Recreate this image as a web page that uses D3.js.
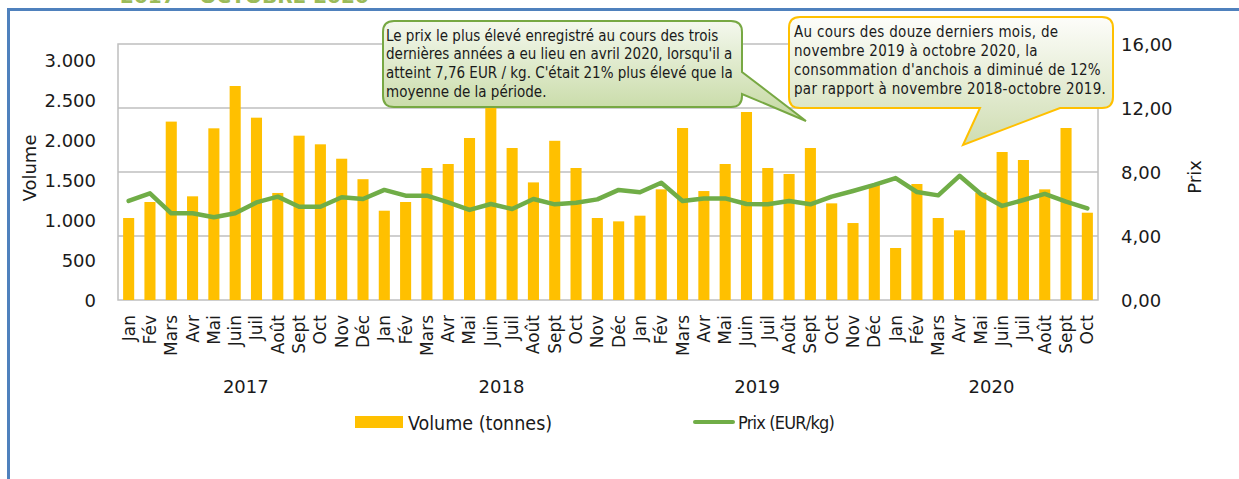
<!DOCTYPE html>
<html>
<head>
<meta charset="utf-8">
<script src="https://cdn.jsdelivr.net/npm/d3@7"></script>
<style>
  html, body { margin: 0; padding: 0; background: #fff; }
  svg { display: block; }
</style>
</head>
<body>
<svg id="chart" width="1239" height="479"></svg>
<script>
// Monthly anchovy volume (tonnes) and price (EUR/kg), Jan 2017 – Oct 2020
const months = ["Jan","Fév","Mars","Avr","Mai","Juin","Juil","Août","Sept","Oct","Nov","Déc",
                "Jan","Fév","Mars","Avr","Mai","Juin","Juil","Août","Sept","Oct","Nov","Déc",
                "Jan","Fév","Mars","Avr","Mai","Juin","Juil","Août","Sept","Oct","Nov","Déc",
                "Jan","Fév","Mars","Avr","Mai","Juin","Juil","Août","Sept","Oct"];
const years = ["2017","2018","2019","2020"];
const yearOf = [0,0,0,0,0,0,0,0,0,0,0,0, 1,1,1,1,1,1,1,1,1,1,1,1,
                2,2,2,2,2,2,2,2,2,2,2,2, 3,3,3,3,3,3,3,3,3,3];
const volume = [1025,1225,2230,1296,2146,2675,2279,1338,2054,1946,1766,1510,
                1116,1225,1650,1700,2025,2550,1900,1470,1990,1650,1025,983,
                1054,1383,2150,1362,1700,2350,1650,1575,1900,1208,962,1450,
                650,1450,1025,871,1341,1850,1750,1383,2150,1091];
const price = [6.19,6.67,5.42,5.42,5.17,5.42,6.10,6.46,5.83,5.83,6.42,6.31,
               6.88,6.52,6.52,6.10,5.63,6.00,5.69,6.31,5.98,6.08,6.29,6.88,
               6.73,7.33,6.19,6.35,6.35,6.00,5.98,6.19,5.98,6.46,6.81,7.19,
               7.62,6.75,6.54,7.76,6.63,5.88,6.25,6.63,6.15,5.73];
const volumeTicks = [0,500,1000,1500,2000,2500,3000];
const priceTicks = [0,4,8,12,16];
const seriesNames = ["Volume (tonnes)","Prix (EUR/kg)"];
const noteHigh = ["Le prix le plus élevé enregistré au cours des trois",
                  "dernières années a eu lieu en avril 2020, lorsqu'il a",
                  "atteint 7,76 EUR / kg. C'était 21% plus élevé que la",
                  "moyenne de la période."];
const noteYear = ["Au cours des douze derniers mois, de",
                  "novembre 2019 à octobre 2020, la",
                  "consommation d'anchois a diminué de 12%",
                  "par rapport à novembre 2018-octobre 2019."];

const BAR = "#FFC000", LINE = "#70AD47", GRID = "#BFBFBF", TXT = "#1a1a1a";
const FONT = "'DejaVu Sans', sans-serif";
const FONT_C = "'DejaVu Sans Condensed', 'DejaVu Sans', sans-serif";

const fr = d3.formatLocale({decimal: ",", thousands: ".", grouping: [3], currency: ["", " €"]});
const fmtVol = fr.format(",.0f");
const fmtPrice = fr.format(",.2f");

const svg = d3.select("#chart");
const plot = {left: 118, right: 1098, top: 44, bottom: 300};

const x = d3.scaleBand().domain(d3.range(months.length))
  .range([plot.left, plot.right]).paddingInner(0.48).paddingOuter(0.24);
const yL = d3.scaleLinear().domain([0, 3200]).range([plot.bottom, plot.top]);
const yR = d3.scaleLinear().domain([0, 16]).range([plot.bottom, plot.top]);

// page title, running under the top edge of the frame
svg.append("text").attr("x", 120).attr("y", 3)
  .attr("font-family", FONT).attr("font-weight", "bold").attr("font-size", 20)
  .attr("fill", "#9BBB59").text("2017 – OCTOBRE 2020");

// blue frame
svg.append("rect").attr("x", 8.5).attr("y", 9.5).attr("width", 1300).attr("height", 600)
  .attr("fill", "none").attr("stroke", "#4F81BD").attr("stroke-width", 3);

// grid lines from the price axis
svg.append("g").selectAll("line").data(priceTicks.slice(1, -1)).join("line")
  .attr("x1", plot.left).attr("x2", plot.right)
  .attr("y1", d => yR(d)).attr("y2", d => yR(d))
  .attr("stroke", GRID).attr("stroke-width", 1.5);

// plot frame
svg.append("rect").attr("x", plot.left).attr("y", plot.top)
  .attr("width", plot.right - plot.left).attr("height", plot.bottom - plot.top)
  .attr("fill", "none").attr("stroke", GRID).attr("stroke-width", 1.5);

// volume bars
svg.append("g").selectAll("rect").data(volume).join("rect")
  .attr("x", (d, i) => x(i)).attr("width", x.bandwidth())
  .attr("y", d => yL(d)).attr("height", d => yL(0) - yL(d))
  .attr("fill", BAR);

// price line
svg.append("path").datum(price)
  .attr("d", d3.line().x((d, i) => x(i) + x.bandwidth() / 2).y(d => yR(d)))
  .attr("fill", "none").attr("stroke", LINE).attr("stroke-width", 4.5)
  .attr("stroke-linejoin", "round").attr("stroke-linecap", "round");

// left axis
const axL = svg.append("g").attr("transform", `translate(${plot.left - 19},0)`)
  .call(d3.axisLeft(yL).tickValues(volumeTicks).tickFormat(fmtVol).tickSize(0));
axL.select(".domain").remove();
axL.selectAll("text").attr("font-family", FONT).attr("font-size", 18).attr("fill", TXT).attr("dy", "0.35em");

// right axis
const axR = svg.append("g").attr("transform", `translate(${plot.right + 23},0)`)
  .call(d3.axisRight(yR).tickValues(priceTicks).tickFormat(fmtPrice).tickSize(0));
axR.select(".domain").remove();
axR.selectAll("text").attr("x", 0).attr("font-family", FONT).attr("font-size", 18).attr("fill", TXT).attr("dy", "0.35em");

// axis titles
svg.append("text").attr("transform", "translate(30,168) rotate(-90)")
  .attr("text-anchor", "middle").attr("dy", "0.35em")
  .attr("font-family", FONT).attr("font-size", 18).attr("fill", TXT).text("Volume");
svg.append("text").attr("transform", "translate(1195,177) rotate(-90)")
  .attr("text-anchor", "middle").attr("dy", "0.35em")
  .attr("font-family", FONT).attr("font-size", 18).attr("fill", TXT).text("Prix");

// month labels
svg.append("g").selectAll("text").data(months).join("text")
  .attr("transform", (d, i) => `translate(${x(i) + x.bandwidth() / 2},315) rotate(-90)`)
  .attr("text-anchor", "end").attr("dy", "0.35em")
  .attr("font-family", FONT).attr("font-size", 17).attr("fill", TXT).text(d => d);

// year labels centred under their months
svg.append("g").selectAll("text").data(years).join("text")
  .attr("x", (d, k) => {
    const idx = d3.range(months.length).filter(i => yearOf[i] === k);
    return (x(idx[0]) + x(idx[idx.length - 1]) + x.bandwidth()) / 2;
  })
  .attr("y", 393).attr("text-anchor", "middle")
  .attr("font-family", FONT).attr("font-size", 18).attr("fill", TXT).text(d => d);

// legend
const lg = svg.append("g");
lg.append("rect").attr("x", 355).attr("y", 416).attr("width", 48).attr("height", 12).attr("fill", BAR);
lg.append("text").attr("x", 408).attr("y", 423).attr("dy", "0.35em")
  .attr("font-family", FONT_C).attr("font-size", 19.5).attr("fill", TXT).text(seriesNames[0]);
lg.append("line").attr("x1", 695).attr("x2", 733).attr("y1", 422).attr("y2", 422)
  .attr("stroke", LINE).attr("stroke-width", 4).attr("stroke-linecap", "round");
lg.append("text").attr("x", 738).attr("y", 423).attr("dy", "0.35em")
  .attr("font-family", FONT_C).attr("font-size", 18).attr("letter-spacing", -0.8)
  .attr("fill", TXT).text(seriesNames[1]);

// callout gradients
const defs = svg.append("defs");
function grad(id, top, bottom) {
  const g = defs.append("linearGradient").attr("id", id).attr("x1", 0).attr("y1", 0).attr("x2", 0).attr("y2", 1);
  g.append("stop").attr("offset", "0%").attr("stop-color", top);
  g.append("stop").attr("offset", "100%").attr("stop-color", bottom);
}
grad("gGreen", "#F4F8EE", "#C4D8A0");
grad("gYellow", "#FDFDFA", "#CFDDB2");

// rounded box with a wedge; wedge given as [base1, tip, base2] walking clockwise
function calloutPath(x0, y0, x1, y1, r, side, w) {
  const p = d3.path();
  p.moveTo(x0 + r, y0);
  p.lineTo(x1 - r, y0);
  p.quadraticCurveTo(x1, y0, x1, y0 + r);
  if (side === "right") { p.lineTo(w[0][0], w[0][1]); p.lineTo(w[1][0], w[1][1]); p.lineTo(w[2][0], w[2][1]); }
  p.lineTo(x1, y1 - r);
  p.quadraticCurveTo(x1, y1, x1 - r, y1);
  if (side === "bottom") { p.lineTo(w[0][0], w[0][1]); p.lineTo(w[1][0], w[1][1]); p.lineTo(w[2][0], w[2][1]); }
  p.lineTo(x0 + r, y1);
  p.quadraticCurveTo(x0, y1, x0, y1 - r);
  p.lineTo(x0, y0 + r);
  p.quadraticCurveTo(x0, y0, x0 + r, y0);
  p.closePath();
  return p.toString();
}

svg.append("path")
  .attr("d", calloutPath(383, 21, 742, 107, 11, "right", [[742, 72], [806, 121], [742, 94]]))
  .attr("fill", "url(#gGreen)").attr("stroke", "#77A843").attr("stroke-width", 2);
svg.append("g").selectAll("text").data(noteHigh).join("text")
  .attr("x", 386).attr("y", (d, i) => 40.5 + i * 18.7)
  .attr("font-family", FONT_C).attr("font-size", 15)
  .attr("fill", TXT).text(d => d);

svg.append("path")
  .attr("d", calloutPath(789, 17, 1113, 108, 11, "bottom", [[1060, 108], [963, 145], [980, 108]]))
  .attr("fill", "url(#gYellow)").attr("stroke", "#FFC000").attr("stroke-width", 2);
svg.append("g").selectAll("text").data(noteYear).join("text")
  .attr("x", 794).attr("y", (d, i) => 36.5 + i * 19)
  .attr("font-family", FONT_C).attr("font-size", 15).attr("letter-spacing", 0.3)
  .attr("fill", TXT).text(d => d);
</script>
</body>
</html>
